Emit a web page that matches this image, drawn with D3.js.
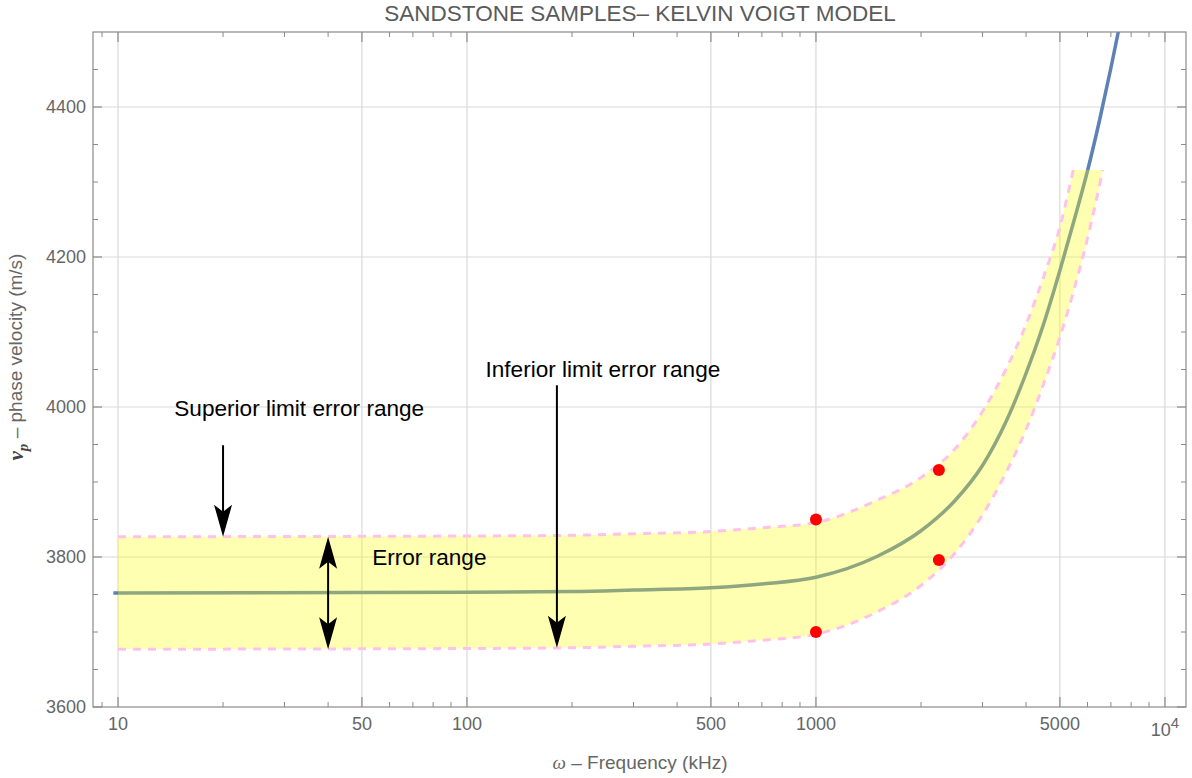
<!DOCTYPE html>
<html>
<head>
<meta charset="utf-8">
<script src="https://cdn.jsdelivr.net/npm/d3@7"></script>
<style>
  body { margin: 0; background: #fff; }
  text { font-family: "Liberation Sans", Arial, sans-serif; }
</style>
</head>
<body>
<div id="chart"></div>
<script>
// Model curve (phase velocity vs frequency)
const curveFreq = [9.7, 10, 100, 200, 300, 500, 700, 1000, 1500, 2000, 2500, 3000, 3500, 4000, 4500, 5000, 5500, 6000, 6500, 7000, 7350, 7600];
const curveVel  = [3752, 3752, 3753, 3754, 3756, 3759, 3764, 3773, 3801, 3835, 3875, 3922, 3980, 4045, 4112, 4182, 4250, 4315, 4383, 4452, 4500, 4535];

// Error band (upper / lower limits)
const bandFreq  = [10, 100, 200, 300, 500, 700, 1000, 1500, 2000, 2500, 3000, 3500, 4000, 4500, 5000, 5500, 6000, 6640];
const bandUpper = [3827, 3828, 3829, 3831, 3834, 3839, 3846, 3876, 3906, 3944, 3994, 4050, 4110, 4175, 4240, 4322, 4395, 4490];
const bandLower = [3677, 3678, 3679, 3681, 3684, 3689, 3697, 3727, 3762, 3805, 3856, 3912, 3970, 4032, 4093, 4158, 4225, 4316];
const bandTop = 4316;

// Measured points
const pointFreq = [1000, 1000, 2250, 2250];
const pointVel  = [3850, 3700, 3916, 3796];

// Annotations
const labelText = ["Superior limit error range", "Inferior limit error range", "Error range"];
const labelFreq = [14.5, 113, 53.5];
const labelVel  = [3999, 4051, 3800];

const arrowFreq   = [20, 181, 40];
const arrowFrom   = [3949, 4029, 3827];
const arrowTo     = [3827, 3679, 3677];
const arrowDouble = [false, false, true];

// Ticks
const xMajorTicks = [10, 50, 100, 500, 1000, 5000, 10000];
const xTickLabels = ["10", "50", "100", "500", "1000", "5000", "10^4"];
const xMinorTicks = [9, 20, 30, 40, 60, 70, 80, 90, 200, 300, 400, 600, 700, 800, 900, 2000, 3000, 4000, 6000, 7000, 8000, 9000];
const yMajorTicks = [3600, 3800, 4000, 4200, 4400];
const yMinorTicks = [3650, 3700, 3750, 3850, 3900, 3950, 4050, 4100, 4150, 4250, 4300, 4350, 4450];

const margin = {top: 32, right: 6, bottom: 71, left: 93},
      width = 1192 - margin.left - margin.right,
      height = 778 - margin.top - margin.bottom;

const svg = d3.select("#chart")
  .append("svg")
    .attr("width", 1192)
    .attr("height", 778);

const g = svg.append("g")
    .attr("transform", `translate(${margin.left},${margin.top})`);

const x = d3.scaleLog().domain([8.48, 11490]).range([0, width]);
const y = d3.scaleLinear().domain([3600, 4500]).range([height, 0]);

// clip areas
const defs = svg.append("defs");
defs.append("clipPath").attr("id", "plotClip")
  .append("rect").attr("width", width).attr("height", height);
defs.append("clipPath").attr("id", "bandClip")
  .append("rect").attr("y", y(bandTop)).attr("width", width).attr("height", height - y(bandTop));

// Grid lines
g.selectAll(".vgrid")
  .data(xMajorTicks)
  .enter().append("line")
  .attr("x1", d => x(d)).attr("x2", d => x(d))
  .attr("y1", 0).attr("y2", height)
  .style("stroke", "#d2d2d2").style("stroke-width", 1);

g.selectAll(".hgrid")
  .data(yMajorTicks.slice(1))
  .enter().append("line")
  .attr("x1", 0).attr("x2", width)
  .attr("y1", d => y(d)).attr("y2", d => y(d))
  .style("stroke", "#d9d9d9").style("stroke-width", 1);

// Model curve
const curveData = curveFreq.map((f, i) => [f, curveVel[i]]);
const line = d3.line()
  .x(d => x(d[0]))
  .y(d => y(d[1]))
  .curve(d3.curveMonotoneX);

g.append("path")
  .datum(curveData)
  .attr("clip-path", "url(#plotClip)")
  .attr("d", line)
  .style("fill", "none")
  .style("stroke", "#5e81b5")
  .style("stroke-width", 3.5);

// Error band on top of the curve
const bandData = bandFreq.map((f, i) => ({f: f, up: bandUpper[i], lo: bandLower[i]}));
const bandGroup = g.append("g").attr("clip-path", "url(#bandClip)");

bandGroup.append("path")
  .datum(bandData)
  .attr("d", d3.area()
    .x(d => x(d.f))
    .y0(d => y(d.lo))
    .y1(d => y(d.up))
    .curve(d3.curveMonotoneX))
  .style("fill", "#ffff00")
  .style("fill-opacity", 0.3);

[d => y(d.up), d => y(d.lo)].forEach(acc => {
  bandGroup.append("path")
    .datum(bandData)
    .attr("d", d3.line().x(d => x(d.f)).y(acc).curve(d3.curveMonotoneX))
    .style("fill", "none")
    .style("stroke", "#ffc2ea")
    .style("stroke-width", 3)
    .style("stroke-dasharray", "8,7");
});

// Measured points
g.selectAll(".pt")
  .data(pointFreq.map((f, i) => [f, pointVel[i]]))
  .enter().append("circle")
  .attr("cx", d => x(d[0]))
  .attr("cy", d => y(d[1]))
  .attr("r", 6)
  .style("fill", "#ff0000");

// Arrows
function arrowHead(px, py, dir) {
  // dir = 1 tip pointing down, -1 pointing up
  const L = 32, W = 9, N = 25;
  return `M${px},${py} L${px - W},${py - dir * L} L${px},${py - dir * N} L${px + W},${py - dir * L} Z`;
}

arrowFreq.forEach((f, i) => {
  const ax = x(f), y0 = y(arrowFrom[i]), y1 = y(arrowTo[i]);
  const dir = y1 > y0 ? 1 : -1;
  g.append("line")
    .attr("x1", ax).attr("x2", ax)
    .attr("y1", arrowDouble[i] ? y0 + dir * 20 : y0)
    .attr("y2", y1 - dir * 20)
    .style("stroke", "#000").style("stroke-width", 2);
  g.append("path").attr("d", arrowHead(ax, y1, dir)).style("fill", "#000");
  if (arrowDouble[i]) {
    g.append("path").attr("d", arrowHead(ax, y0, -dir)).style("fill", "#000");
  }
});

// Annotation labels
g.selectAll(".label")
  .data(labelText)
  .enter().append("text")
  .attr("x", (d, i) => x(labelFreq[i]))
  .attr("y", (d, i) => y(labelVel[i]))
  .attr("dy", "0.35em")
  .style("font-size", "22.6px")
  .style("fill", "#000")
  .text(d => d);

// Frame
g.append("rect")
  .attr("width", width).attr("height", height)
  .style("fill", "none")
  .style("stroke", "#8a8a8a")
  .style("stroke-width", 1.2);

// Ticks: bottom / top
function xTicks(yPos, dir) {
  g.selectAll(null)
    .data(xMajorTicks)
    .enter().append("line")
    .attr("x1", d => x(d)).attr("x2", d => x(d))
    .attr("y1", yPos).attr("y2", yPos + dir * 10)
    .style("stroke", "#8a8a8a").style("stroke-width", 1.2);
  g.selectAll(null)
    .data(xMinorTicks)
    .enter().append("line")
    .attr("x1", d => x(d)).attr("x2", d => x(d))
    .attr("y1", yPos).attr("y2", yPos + dir * 5)
    .style("stroke", "#8a8a8a").style("stroke-width", 1);
}
xTicks(height, -1);
xTicks(0, 1);

function yTicks(xPos, dir) {
  g.selectAll(null)
    .data(yMajorTicks)
    .enter().append("line")
    .attr("x1", xPos).attr("x2", xPos + dir * 9)
    .attr("y1", d => y(d)).attr("y2", d => y(d))
    .style("stroke", "#8a8a8a").style("stroke-width", 1.2);
  g.selectAll(null)
    .data(yMinorTicks)
    .enter().append("line")
    .attr("x1", xPos).attr("x2", xPos + dir * 5)
    .attr("y1", d => y(d)).attr("y2", d => y(d))
    .style("stroke", "#8a8a8a").style("stroke-width", 1);
}
yTicks(0, 1);
yTicks(width, -1);

// Tick labels
const xl = g.selectAll(".xl")
  .data(xMajorTicks)
  .enter().append("text")
  .attr("x", d => x(d))
  .attr("y", height + 23)
  .attr("text-anchor", "middle")
  .style("font-size", "18px")
  .style("fill", "#666");
xl.each(function(d, i) {
  const t = d3.select(this);
  const lab = xTickLabels[i];
  if (lab.includes("^")) {
    const [base, ex] = lab.split("^");
    t.attr("y", height + 29);
    t.append("tspan").text(base);
    t.append("tspan").attr("dy", "-0.55em").style("font-size", "15px").text(ex);
  } else {
    t.text(lab);
  }
});

g.selectAll(".yl")
  .data(yMajorTicks)
  .enter().append("text")
  .attr("x", -7)
  .attr("y", d => y(d))
  .attr("dy", "0.36em")
  .attr("text-anchor", "end")
  .style("font-size", "18px")
  .style("fill", "#666")
  .text(d => d);

// Title
svg.append("text")
  .attr("x", 640)
  .attr("y", 21)
  .attr("text-anchor", "middle")
  .style("font-size", "22.5px")
  .style("fill", "#5a5a5a")
  .text("SANDSTONE SAMPLES\u2013 KELVIN VOIGT MODEL");

// Axis titles
const xt = svg.append("text")
  .attr("x", 640)
  .attr("y", 769)
  .attr("text-anchor", "middle")
  .style("font-size", "19px")
  .style("fill", "#666");
xt.append("tspan").style("font-family", "'Liberation Serif', serif").style("font-style", "italic").text("\u03c9");
xt.append("tspan").text(" \u2013 Frequency (kHz)");

const yt = svg.append("text")
  .attr("transform", "translate(23,357) rotate(-90)")
  .attr("text-anchor", "middle")
  .style("font-size", "19px")
  .style("fill", "#666");
yt.append("tspan").style("font-family", "'Liberation Serif', serif").style("font-style", "italic")
  .style("font-weight", "bold").style("font-size", "21px").style("fill", "#444").text("v");
yt.append("tspan").attr("dy", "0.3em").style("font-family", "'Liberation Serif', serif").style("font-style", "italic")
  .style("font-weight", "bold").style("font-size", "15px").style("fill", "#444").text("p");
yt.append("tspan").attr("dy", "-0.3em").text(" \u2013 phase velocity (m/s)");
</script>
</body>
</html>
